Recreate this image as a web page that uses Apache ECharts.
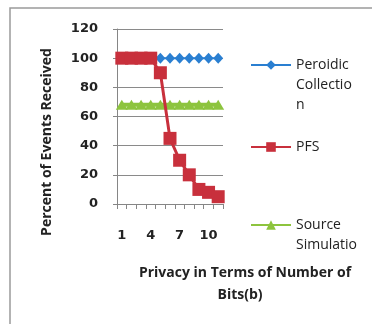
<!DOCTYPE html>
<html><head><meta charset="utf-8">
<script src="https://cdn.jsdelivr.net/npm/echarts@6/dist/echarts.min.js"></script>
<style>html,body{margin:0;padding:0;background:#fff}#c{width:372px;height:324px}</style>
</head><body><div id="c"></div>
<script>
const categories = ['1','2','3','4','5','6','7','8','9','10','11'];
const periodic = [100,100,100,100,100,100,100,100,100,100,100];
const pfs = [100,100,100,100,90,45,30,20,10,8,5];
const source = [68,68,68,68,68,68,68,68,68,68,68];
const yTicks = [0,20,40,60,80,100,120];

const FONT = '"Open Sans"';
const TICKFONT = '"DejaVu Sans"';
const chart = echarts.init(document.getElementById('c'));
const legendText = {'Periodic Collection':'\n\nPeroidic\nCollectio\nn','PFS':'PFS','Source Simulation':'\nSource\nSimulatio'};
function leg(name, top) {
  return {
    data: [name], left: 250, top: top, orient: 'vertical',
    itemWidth: 40, itemHeight: 12, selectedMode: false, padding: 0,
    formatter: n => legendText[n],
    textStyle: {fontFamily: FONT, fontSize: 14, color: '#222', lineHeight: 20}
  };
}
chart.setOption({
  animation: false,
  backgroundColor: '#fff',
  grid: {left: 117, top: 29, width: 106, height: 175, containLabel: false},
  xAxis: {
    type: 'category', data: categories, boundaryGap: true,
    axisLine: {lineStyle: {color: '#868686', width: 1}},
    axisTick: {show: true, length: 5, interval: 0, lineStyle: {color: '#868686'}},
    axisLabel: {interval: 2, margin: 25, fontFamily: TICKFONT, fontWeight: 'bold', fontSize: 13, color: '#222'}
  },
  yAxis: {
    type: 'value', min: yTicks[0], max: yTicks[yTicks.length-1], interval: 20,
    axisLine: {show: true, lineStyle: {color: '#868686'}},
    axisTick: {show: true, length: 4, lineStyle: {color: '#868686'}},
    splitLine: {lineStyle: {color: '#8a8a8a', width: 1}},
    axisLabel: {margin: 19, fontFamily: TICKFONT, fontWeight: 'bold', fontSize: 13, color: '#222'}
  },
  legend: [leg('Periodic Collection', 15), leg('PFS', 137), leg('Source Simulation', 195)],
  series: [
    {name: 'Periodic Collection', type: 'line', data: periodic, symbol: 'diamond', symbolSize: [10, 11], showAllSymbol: true,
     itemStyle: {color: '#2a7fd1'}, lineStyle: {color: '#2a7fd1', width: 2}, z: 2},
    {name: 'Source Simulation', type: 'line', data: source, symbol: 'triangle', symbolSize: [12, 10], showAllSymbol: true,
     itemStyle: {color: '#8dc43e'}, lineStyle: {color: '#8dc43e', width: 4}, z: 3},
    {name: 'PFS', type: 'line', data: pfs, symbol: 'rect', symbolSize: 13, showAllSymbol: true,
     itemStyle: {color: '#c8303c'}, lineStyle: {color: '#c8303c', width: 3}, z: 4}
  ],
  graphic: [
    {type: 'rect', shape: {x: 10, y: 8, width: 500, height: 500}, style: {fill: 'none', stroke: '#9a9a9a', lineWidth: 1.5}, z: -10},
    {type: 'text', x: 47, y: 142, rotation: Math.PI/2, style: {text: 'Percent of Events Received', font: 'bold 14px ' + FONT, fill: '#222', align: 'center', verticalAlign: 'middle'}},
    {type: 'text', x: 245, y: 273, style: {text: 'Privacy in Terms of Number of', font: 'bold 14px ' + FONT, fill: '#222', align: 'center', verticalAlign: 'middle'}},
    {type: 'text', x: 240, y: 295, style: {text: 'Bits(b)', font: 'bold 14px ' + FONT, fill: '#222', align: 'center', verticalAlign: 'middle'}}
  ]
});
</script></body></html>
